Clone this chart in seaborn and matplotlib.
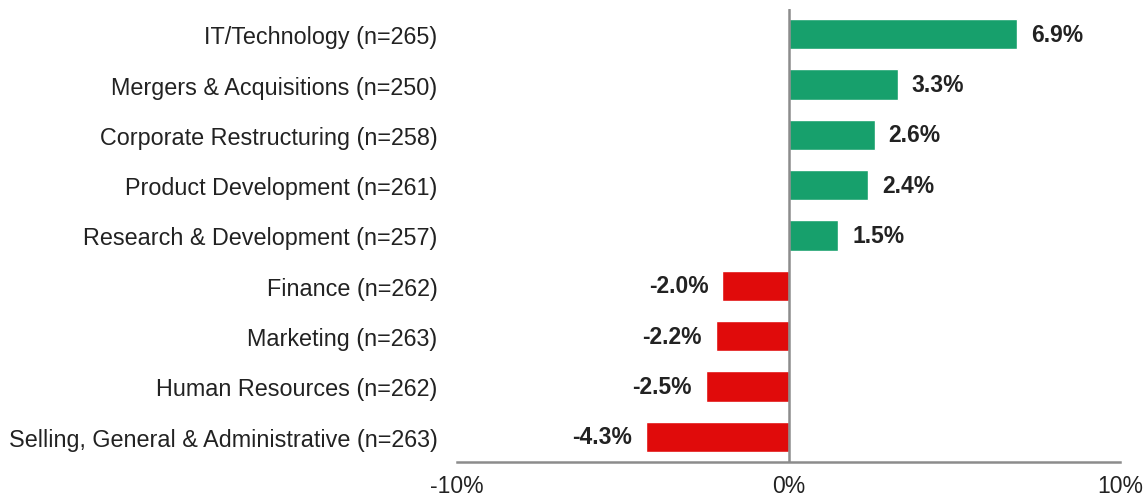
import matplotlib
matplotlib.use("Agg")
import matplotlib.pyplot as plt
import seaborn as sns
import pandas as pd

categories = [
    "IT/Technology (n=265)",
    "Mergers & Acquisitions (n=250)",
    "Corporate Restructuring (n=258)",
    "Product Development (n=261)",
    "Research & Development (n=257)",
    "Finance (n=262)",
    "Marketing (n=263)",
    "Human Resources (n=262)",
    "Selling, General & Administrative (n=263)",
]
values = [6.9, 3.3, 2.6, 2.4, 1.5, -2.0, -2.2, -2.5, -4.3]
x_ticks = [-10, 0, 10]
x_tick_labels = ["-10%", "0%", "10%"]

sns.set_theme(style="white")
plt.rcParams["font.family"] = ["Liberation Sans", "DejaVu Sans"]

df = pd.DataFrame({"cat": categories, "val": values})
df["sign"] = ["pos" if v >= 0 else "neg" for v in values]

fig = plt.figure(figsize=(11.45, 5.02), dpi=100)
ax = fig.add_axes([457 / 1145, 1 - 463 / 502, (1120 - 457) / 1145, (463 - 10) / 502])

sns.barplot(data=df, x="val", y="cat", hue="sign", order=categories,
            palette={"pos": "#17a06c", "neg": "#e00b0b"}, dodge=False,
            legend=False, width=0.6, ax=ax, saturation=1)

ax.set_xlim(-10, 10)
ax.set_ylim(8.5, -0.5)
ax.axvline(0, color="#8c8c8c", lw=1.8, zorder=3)
ax.set_xticks(x_ticks)
ax.set_xticklabels(x_tick_labels)
ax.set_xlabel("")
ax.set_ylabel("")
for s in ["top", "right", "left"]:
    ax.spines[s].set_visible(False)
ax.spines["bottom"].set_color("#8c8c8c")
ax.spines["bottom"].set_linewidth(1.8)
ax.tick_params(axis="x", length=0, pad=9, labelsize=16.5, colors="#222222")
ax.tick_params(axis="y", length=0, pad=14, labelsize=16.8, colors="#222222")

for i, v in enumerate(values):
    if v >= 0:
        ax.text(v + 0.42, i, f"{v:.1f}%", ha="left", va="center",
                fontsize=16.5, fontweight="bold", color="#222222")
    else:
        ax.text(v - 0.42, i, f"{v:.1f}%", ha="right", va="center",
                fontsize=16.5, fontweight="bold", color="#222222")

fig.savefig("out.png", dpi=100)
